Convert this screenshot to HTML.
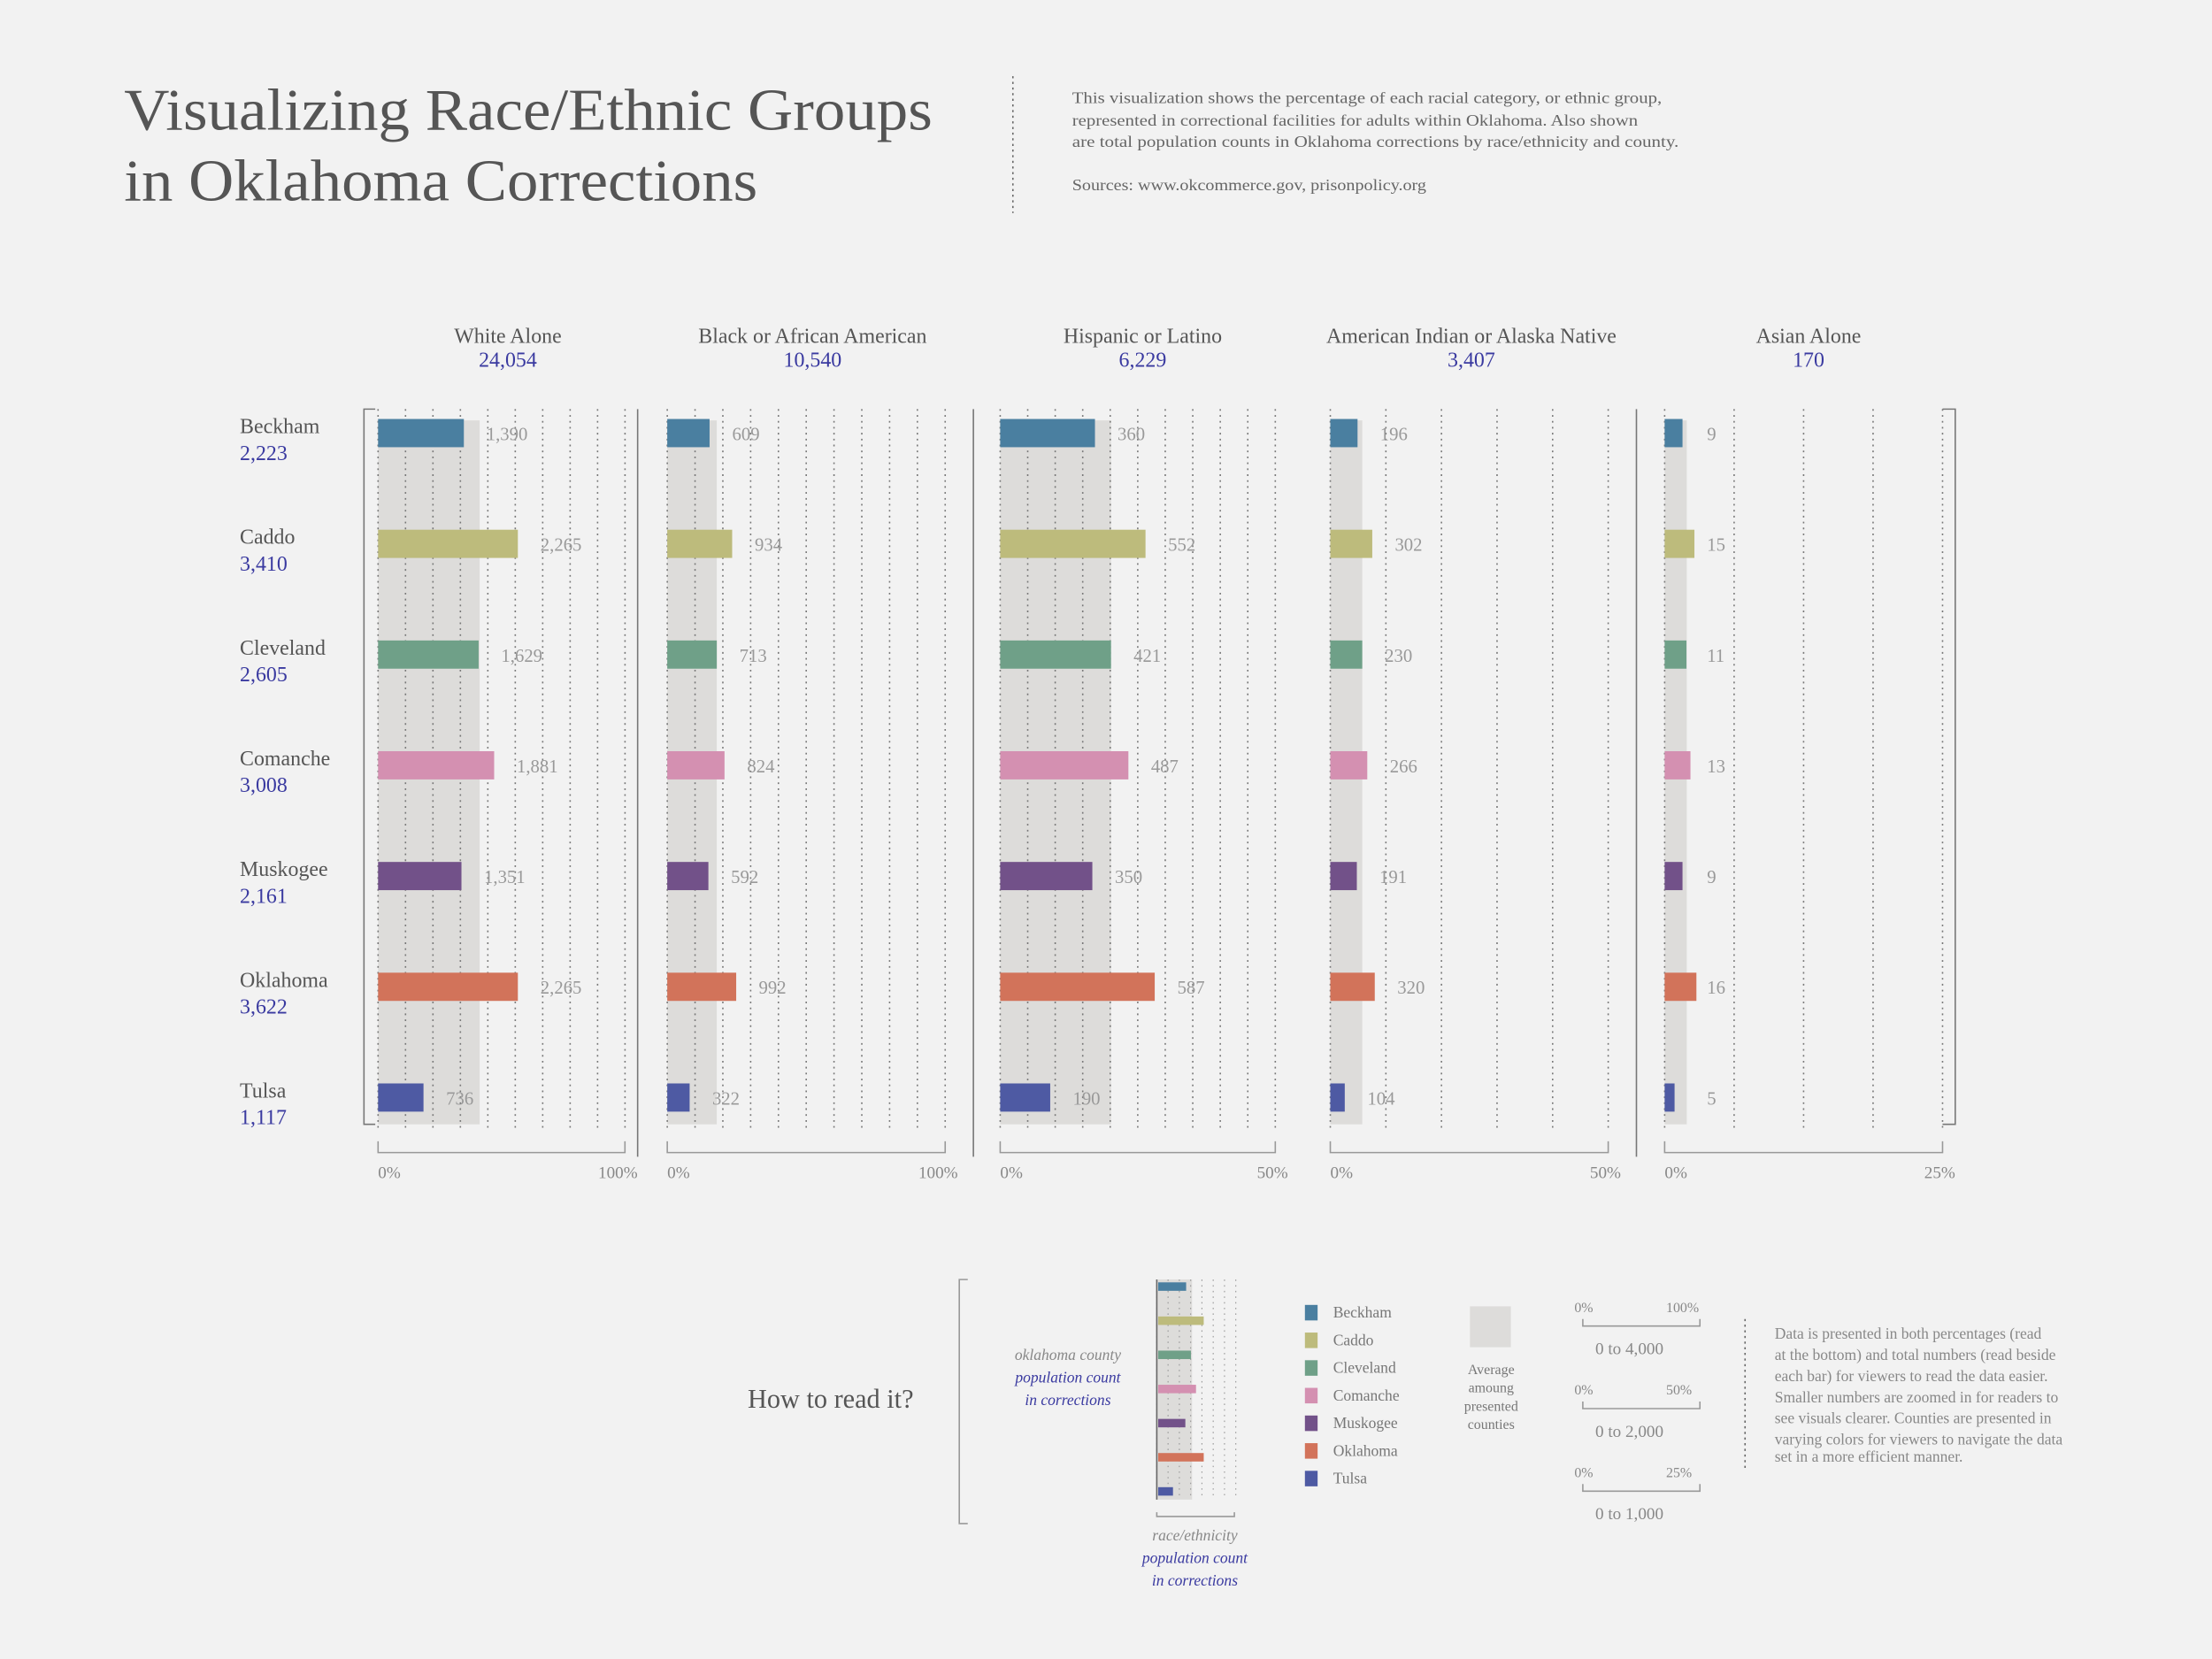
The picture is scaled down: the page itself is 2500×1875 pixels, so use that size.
<!DOCTYPE html>
<html><head><meta charset="utf-8">
<style>
html,body{margin:0;padding:0;background:#f2f2f2;}
svg{display:block;}
text{font-family:"Liberation Serif",serif;}
</style></head>
<body>
<svg id="chart" width="2500" height="1875" viewBox="0 0 1568 1176" xmlns="http://www.w3.org/2000/svg">
<rect width="1568" height="1176" fill="#f2f2f2"/>
<g fill="#555" font-size="42">
<text x="88" y="92" textLength="573" lengthAdjust="spacingAndGlyphs">Visualizing Race/Ethnic Groups</text>
<text x="88" y="142" textLength="449" lengthAdjust="spacingAndGlyphs">in Oklahoma Corrections</text>
</g>
<line x1="718" y1="54" x2="718" y2="151" stroke="#666" stroke-dasharray="1.5,2.5"/>
<g fill="#666" font-size="11.5">
<text x="760" y="73" textLength="418" lengthAdjust="spacingAndGlyphs">This visualization shows the percentage of each racial category, or ethnic group,</text>
<text x="760" y="89" textLength="401" lengthAdjust="spacingAndGlyphs">represented in correctional facilities for adults within Oklahoma. Also shown</text>
<text x="760" y="104" textLength="430" lengthAdjust="spacingAndGlyphs">are total population counts in Oklahoma corrections by race/ethnicity and county.</text>
<text x="760" y="135" textLength="251" lengthAdjust="spacingAndGlyphs">Sources: www.okcommerce.gov, prisonpolicy.org</text>
</g>
<g id="main"></g>
<g>
<text x="530" y="998" font-size="19" fill="#555">How to read it?</text>
<path d="M686,907 L680,907 L680,1080 L686,1080" fill="none" stroke="#999"/>
<g font-size="11" font-style="italic" text-anchor="middle">
<text x="757" y="964" fill="#888">oklahoma county</text>
<text x="757" y="980" fill="#3a3aa0">population count</text>
<text x="757" y="996" fill="#3a3aa0">in corrections</text>
<text x="847" y="1092" fill="#888">race/ethnicity</text>
<text x="847" y="1108" fill="#3a3aa0">population count</text>
<text x="847" y="1124" fill="#3a3aa0">in corrections</text>
</g>
<g id="mini"></g>
<path d="M820,1072 L820,1075 L875,1075 L875,1072" fill="none" stroke="#999"/>
<g id="legend"></g>
<rect x="1042" y="926" width="29" height="29" fill="#dddcda"/>
<g font-size="10" fill="#777" text-anchor="middle">
<text x="1057" y="974">Average</text><text x="1057" y="987">amoung</text><text x="1057" y="1000">presented</text><text x="1057" y="1013">counties</text>
</g>
<g id="scales" font-size="10" fill="#888"></g>
<line x1="1237" y1="935" x2="1237" y2="1043" stroke="#666" stroke-dasharray="1.5,2.5"/>
<g font-size="11" fill="#888">
<text x="1258" y="949">Data is presented in both percentages (read</text>
<text x="1258" y="964">at the bottom) and total numbers (read beside</text>
<text x="1258" y="979">each bar) for viewers to read the data easier.</text>
<text x="1258" y="994">Smaller numbers are zoomed in for readers to</text>
<text x="1258" y="1009">see visuals clearer. Counties are presented in</text>
<text x="1258" y="1024">varying colors for viewers to navigate the data</text>
<text x="1258" y="1036">set in a more efficient manner.</text>
</g>
</g>
</svg>
<script>
const counties = ["Beckham","Caddo","Cleveland","Comanche","Muskogee","Oklahoma","Tulsa"];
const countyTotals = ["2,223","3,410","2,605","3,008","2,161","3,622","1,117"];
const groups = ["White Alone","Black or African American","Hispanic or Latino","American Indian or Alaska Native","Asian Alone"];
const groupTotals = ["24,054","10,540","6,229","3,407","170"];
const white = [1390,2265,1629,1881,1351,2265,736];
const black = [609,934,713,824,592,992,322];
const hispanic = [360,552,421,487,350,587,190];
const amIndian = [196,302,230,266,191,320,104];
const asian = [9,15,11,13,9,16,5];
const axisEndLabels = ["100%","100%","50%","50%","25%"];
const scaleMax = [4000,4000,1045,2000,140];
const colors = ["#4a7fa0","#bdbb7c","#6fa088","#d490b1","#725189","#d2735a","#4e5aa3"];

const NS="http://www.w3.org/2000/svg";
function el(tag,attrs,parent,txt){const e=document.createElementNS(NS,tag);for(const k in attrs)e.setAttribute(k,attrs[k]);if(txt!==undefined)e.textContent=txt;parent.appendChild(e);return e;}
const main=document.getElementById('main');
const series=[white,black,hispanic,amIndian,asian];
const panels=[{x0:268,x1:443,step:19.45,hx:360},{x0:473,x1:670,step:19.7,hx:576},{x0:709,x1:904,step:19.5,hx:810},{x0:943,x1:1140,step:39.4,hx:1043},{x0:1180,x1:1377,step:49.25,hx:1282}];
function yRow(i){return 307+i*78.5;}
const bandTop=298,bandBot=797;

counties.forEach((c,i)=>{
  const t=el('text',{x:170,y:yRow(i)+0,'font-size':15,fill:'#555'},main,c);
  
  
  const n=el('text',{x:170,y:yRow(i)+19,'font-size':15,fill:'#3a3aa0'},main,countyTotals[i]);
  
  
});
el('path',{d:'M266,290 L258,290 L258,797 L266,797',fill:'none',stroke:'#777'},main);
el('path',{d:'M1377,290 L1386,290 L1386,797 L1377,797',fill:'none',stroke:'#777'},main);
[452,690,1160].forEach(x=>el('line',{x1:x,y1:290,x2:x,y2:820,stroke:'#777'},main));

panels.forEach((p,g)=>{
  const vals=series[g];
  const sx=v=>p.x0+v/scaleMax[g]*(p.x1-p.x0);
  const h=el('text',{x:p.hx,y:243,'font-size':15,fill:'#555','text-anchor':'middle'},main,groups[g]);
  
  
  const ht=el('text',{x:p.hx,y:260,'font-size':15,fill:'#3a3aa0','text-anchor':'middle'},main,groupTotals[g]);
  
  
  const avg=vals.reduce((a,b)=>a+b,0)/vals.length;
  const band=el('rect',{x:p.x0,y:bandTop,width:sx(avg)-p.x0,height:bandBot-bandTop,fill:'#dddcda'},main);
  
  
  for(let x=p.x0;x<=p.x1+1;x+=p.step){
    el('line',{x1:x,y1:290,x2:x,y2:800,stroke:'#777','stroke-width':1,'stroke-dasharray':'1.2,3'},main);
  }
  vals.forEach((v,i)=>{
    const r=el('rect',{x:p.x0,y:yRow(i)-10,width:Math.max(2,sx(v)-p.x0),height:20,fill:colors[i]},main);
    
    
    const lx=g===4?1210:sx(v)+16;
    const l=el('text',{x:lx,y:yRow(i)+5,'font-size':13,fill:'#999'},main,v.toLocaleString('en-US'));
    
    
  });
  el('path',{d:`M${p.x0},809 L${p.x0},817 L${p.x1},817 L${p.x1},809`,fill:'none',stroke:'#999'},main);
  const a0=el('text',{x:p.x0,y:835,'font-size':12,fill:'#888'},main,'0%');
  
  
  const a1=el('text',{x:p.x1+9,y:835,'font-size':12,fill:'#888','text-anchor':'end'},main,axisEndLabels[g]);
  
  
});

const mini=document.getElementById('mini');
el('rect',{x:820,y:907,width:25,height:156,fill:'#dddcda'},mini);
for(let x=820;x<=878;x+=8) el('line',{x1:x,y1:907,x2:x,y2:1063,stroke:'#999','stroke-dasharray':'1,3','stroke-width':0.7},mini);
el('line',{x1:820,y1:907,x2:820,y2:1063,stroke:'#666'},mini);
white.forEach((v,i)=>{
  const r=el('rect',{x:821,y:909+i*24.2,width:v/4000*57,height:6,fill:colors[i]},mini);
  
  
});
const lg=document.getElementById('legend');
counties.forEach((c,i)=>{
  const s=el('rect',{x:925,y:925+i*19.6,width:9,height:11,fill:colors[i]},lg);
  
  
  const t=el('text',{x:945,y:934+i*19.6,'font-size':11,fill:'#777'},lg,c);
  
  
});
const sc=document.getElementById('scales');
const scaleEnds=["100%","50%","25%"];
const scaleRanges=["0 to 4,000","0 to 2,000","0 to 1,000"];
scaleEnds.forEach((e,i)=>{
  const y=930+i*58.5;
  el('text',{x:1116,y:y},sc,'0%');
  el('text',{x:1181,y:y},sc,e);
  el('path',{d:`M1122,${y+5} L1122,${y+10} L1205,${y+10} L1205,${y+5}`,fill:'none',stroke:'#999'},sc);
  const t=el('text',{x:1155,y:y+30,'font-size':12,'text-anchor':'middle'},sc,scaleRanges[i]);
  
  
});
</script>
</body></html>
